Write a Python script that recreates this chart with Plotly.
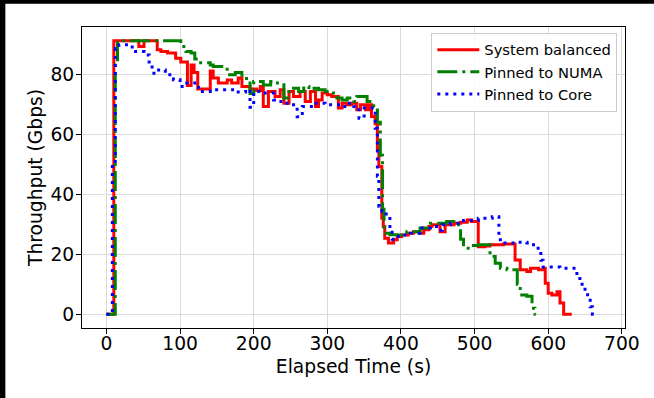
import plotly.graph_objects as go

# ---- data (time in s, throughput in Gbps; step change points) ----
red_t = [0, 10, 44, 51, 69, 74, 83, 94, 101, 110, 115, 119, 124, 141, 145, 152, 164, 170, 179, 184,
         195, 204, 209, 213, 220, 229, 236, 241, 248, 254, 263, 270, 277, 284, 288, 293, 300, 306,
         315, 320, 327, 333, 340, 345, 352, 356, 360, 365, 368, 370, 374, 376, 378, 383, 390, 395,
         401, 410, 417, 426, 431, 438, 442, 453, 460, 472, 481, 490, 496, 505, 514, 521, 539, 555,
         562, 571, 576, 587, 594, 596, 600, 605, 612, 616, 621, 632]
red_v = [0, 91.1, 89.2, 91.1, 88.1, 87.5, 87, 85.3, 84, 76.2, 83, 80.5, 75, 81, 78.7, 77, 78, 77, 78.7, 75.9,
         75, 74.5, 75.9, 69.2, 74.2, 72.5, 74.8, 70.3, 74.2, 72.5, 74.2, 70.9, 74.2, 69.2, 71.4, 73.7, 73.1, 72.5,
         68.7, 70.3, 69.8, 70.3, 68.1, 69.8, 68.1, 69.8, 65.9, 63.5, 55, 49.2, 32, 29.2, 25.3, 23.7, 24.8, 25.9,
         26.4, 27, 27.5, 27, 28.1, 29.2, 29.8, 27.5, 29.8, 30.3, 30.6, 31.4, 30.9, 22.5, 22.7, 23.1, 23.4, 18.1,
         14.8, 14.2, 15.3, 14.8, 15.3, 10.3, 7, 6.4, 7.5, 3.7, 0, 0]

green_t = [0, 12, 15, 101, 108, 115, 120, 128, 141, 145, 154, 164, 175, 184, 195, 200, 213, 223, 229,
           241, 248, 254, 261, 268, 275, 282, 288, 297, 304, 313, 320, 327, 336, 340, 354, 363, 368,
           372, 375, 377, 385, 395, 408, 426, 440, 462, 476, 481, 485, 494, 505, 521, 528, 535, 544,
           558, 562, 571, 578, 582, 583]
green_v = [0, 83, 91.1, 89.2, 87.5, 87, 85, 83.8, 83, 82.5, 82.5, 79.8, 80.5, 78.5, 73.5, 77.5, 76.4, 77.5, 77,
           72, 74.2, 75.3, 74.2, 75.9, 74.8, 75.3, 74.8, 74.2, 73.7, 72, 71.4, 72, 70.9, 72.5, 70.9, 68.7, 64,
           53, 35, 27, 26.5, 26.4, 27.5, 28.7, 30.3, 30.9, 29.8, 25, 22, 22.9, 23.1, 19.2, 17, 15.3, 14.8,
           10, 6.4, 6, 2, 0, 0]

blue_t = [0, 8, 12, 17, 35, 51, 58, 62, 67, 80, 91, 100, 107, 125, 141, 175, 189, 195, 200, 213, 227,
          232, 243, 254, 259, 266, 282, 297, 318, 327, 336, 343, 350, 361, 365, 368, 370, 371, 374, 380,
          385, 388, 392, 399, 413, 426, 440, 451, 456, 467, 485, 505, 524, 533, 535, 558, 571, 580, 590,
          593, 616, 639, 643, 650, 657, 660, 666]
blue_v = [0, 50, 88.5, 89.8, 87.5, 86.4, 83.3, 80.3, 81.4, 79.8, 78.1, 75.9, 77, 74.2, 74.8, 74, 74.8, 69, 74.2, 73.7, 71.4,
          70.9, 70.3, 69.8, 65.8, 69.2, 70.3, 69.8, 69.2, 70.3, 69.2, 65.3, 68.7, 67.5, 62, 46, 36, 35.3, 34.2, 32.5,
          28.1, 25, 25.9, 26.4, 27, 28.7, 29.2, 28, 29.8, 30.3, 31.2, 32, 32.5, 26, 23.7, 24, 23.7, 22, 18,
          15.7, 15.3, 13, 10, 6.5, 2.5, 0, 0]

names = ["System balanced", "Pinned to NUMA", "Pinned to Core"]
x_ticks = [0, 100, 200, 300, 400, 500, 600, 700]
y_ticks = [0, 20, 40, 60, 80]

fig = go.Figure()
fig.add_trace(go.Scatter(x=red_t, y=red_v, mode="lines", name=names[0], line_shape="hv",
                         line=dict(color="#ff0000", width=3)))
fig.add_trace(go.Scatter(x=green_t, y=green_v, mode="lines", name=names[1], line_shape="hv",
                         line=dict(color="#008000", width=3, dash="20px,5px,3px,5px")))
fig.add_trace(go.Scatter(x=blue_t, y=blue_v, mode="lines", name=names[2], line_shape="hv",
                         line=dict(color="#0000ff", width=3, dash="3px,5px")))

FONT = "DejaVu Sans"
L, R, T, B = 81.7, 625.0, 27.3, 328.3
W, H = 654, 398
pw, ph = R - L, B - T

def px2x(px):
    return (px - L) / pw

def py2y(py):
    return (B - py) / ph

axis_common = dict(
    showline=True, linecolor="black", linewidth=1.1, mirror=True,
    showgrid=True, gridcolor="#dadada", gridwidth=1,
    ticks="outside", ticklen=5, tickwidth=1.1, tickcolor="black",
    tickfont=dict(family=FONT, size=18.7, color="black"),
    zeroline=False,
)

fig.update_layout(
    width=W, height=H,
    margin=dict(l=L, r=W - R, t=T, b=H - B, pad=0),
    paper_bgcolor="white", plot_bgcolor="white",
    xaxis=dict(range=[-33.2, 704.3], tickvals=x_ticks, ticklabelstandoff=-6,
               title=dict(text="Elapsed Time (s)", font=dict(family=FONT, size=18.7, color="black"), standoff=6),
               **axis_common),
    yaxis=dict(range=[-4.6, 95.7], tickvals=y_ticks, ticklabelstandoff=-2,
               title=dict(text="Throughput (Gbps)", font=dict(family=FONT, size=18.7, color="black"), standoff=2),
               **axis_common),
    legend=dict(x=px2x(617.3), y=py2y(33), xanchor="right", yanchor="top", itemwidth=42,
                bgcolor="rgba(255,255,255,0.85)", bordercolor="#cccccc", borderwidth=1,
                font=dict(family=FONT, size=14.7, color="black")),
    showlegend=True,
    shapes=[
        dict(type="rect", xref="paper", yref="paper", x0=px2x(-30), x1=px2x(5), y0=py2y(H + 30), y1=py2y(-30),
             fillcolor="black", line=dict(width=0), layer="above"),
        dict(type="rect", xref="paper", yref="paper", x0=px2x(-30), x1=px2x(W + 30), y0=py2y(4), y1=py2y(-30),
             fillcolor="black", line=dict(width=0), layer="above"),
    ],
)

fig.write_html(
    "out.html",
    config={"displayModeBar": False},
    post_script="document.body.style.margin='0px';document.body.style.overflow='hidden';",
)
